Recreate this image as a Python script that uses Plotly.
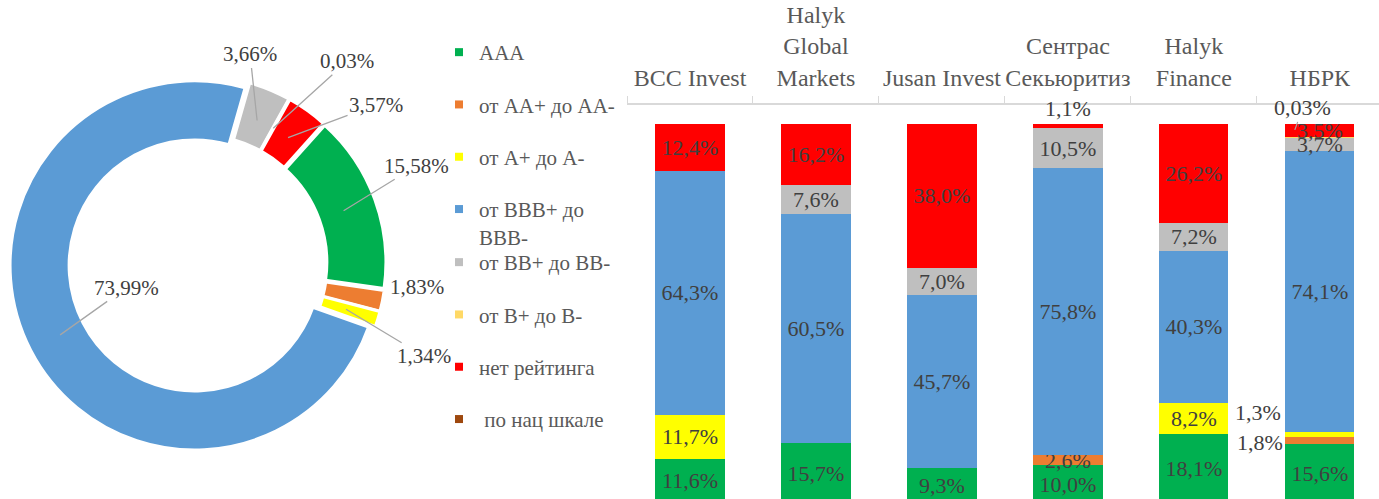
import math
import plotly.graph_objects as go

# ---------------- data ----------------
rating_labels = ["ААА", "от АА+ до АА-", "от А+ до А-", "от ВВВ+ до<br>ВВВ-",
                 "от ВВ+ до ВВ-", "от В+ до В-", "нет рейтинга", " по нац шкале"]

donut_labels = rating_labels[:7]
donut_values = [15.58, 1.83, 1.34, 73.99, 3.66, 0.03, 3.57]

companies = ["BCC Invest", "Halyk<br>Global<br>Markets", "Jusan Invest",
             "Сентрас<br>Секьюритиз", "Halyk<br>Finance", "НБРК"]
aaa = [11.6, 15.7, 9.3, 10.0, 18.1, 15.6]
aa = [0, 0, 0, 2.6, 0, 1.8]
a_rt = [11.7, 0, 0, 0, 8.2, 1.3]
bbb = [64.3, 60.5, 45.7, 75.8, 40.3, 74.1]
bb = [0, 7.6, 7.0, 10.5, 7.2, 3.7]
b_rt = [0, 0, 0, 0, 0, 0.03]
no_rating = [12.4, 16.2, 38.0, 1.1, 26.2, 3.5]
national = [0, 0, 0, 0, 0, 0]

series = [aaa, aa, a_rt, bbb, bb, b_rt, no_rating, national]

# ---------------- style ----------------
colors = ["#00B050", "#ED7D31", "#FFFF00", "#5B9BD5", "#BFBFBF", "#FFD966", "#FF0000", "#9E480E"]
FONT = "Liberation Serif, Times New Roman, serif"
W, H = 1379, 499
LABEL_C = "#404040"
AXIS_C = "#595959"

pie_dom_x = [0.007, 0.280]
pie_dom_y = [0.094, 0.849]
pie_hole = 0.68
pie_pull = 0.02
pie_rotation = 42

# donut label offsets (px) from the slice anchor
donut_label_offsets = [(73, -45, True), (38, -7, False), (78, 47, True), (66, -47, True),
                       (-7, -66, True), (74, -67, True), (88, -33, True)]

# bar labels placed outside of the segment
outside_bar_labels = {
    (6, 3): dict(xshift=0, yshift=15, where="top"),
    (2, 5): dict(xshift=-62, yshift=22, where="mid"),
    (1, 5): dict(xshift=-60, yshift=-2, where="mid"),
    (5, 5): dict(xshift=-25, yshift=-6, where="top_arrow"),
}


def fmt(v, nd=1):
    if v < 0.1:
        nd = 2
    return f"{v:.{nd}f}".replace(".", ",") + "%"


fig = go.Figure()

# ---------------- donut ----------------
fig.add_trace(go.Pie(
    labels=donut_labels, values=donut_values, sort=False, direction="clockwise",
    rotation=pie_rotation, hole=pie_hole, pull=pie_pull,
    marker=dict(colors=colors[:7], line=dict(color="white", width=3)),
    textinfo="none", showlegend=False, automargin=False,
    domain=dict(x=pie_dom_x, y=pie_dom_y),
))

cx = (pie_dom_x[0] + pie_dom_x[1]) / 2 * W
cy = (pie_dom_y[0] + pie_dom_y[1]) / 2 * H
R = min((pie_dom_x[1] - pie_dom_x[0]) * W, (pie_dom_y[1] - pie_dom_y[0]) * H) / 2 / (1 + pie_pull)
r_anchor = R * (1 + pie_hole) / 2
total = sum(donut_values)
cum = 0.0
annotations = []
for v, (ox, oy, arrow) in zip(donut_values, donut_label_offsets):
    theta = math.radians(pie_rotation + 360 * (cum + v / 2) / total)
    cum += v
    px = cx + r_anchor * math.sin(theta)
    py = cy + r_anchor * math.cos(theta)
    common = dict(xref="paper", yref="paper", x=px / W, y=py / H, text=fmt(v, 2),
                  font=dict(family=FONT, size=21, color=LABEL_C))
    if arrow:
        annotations.append(dict(**common, showarrow=True, ax=ox, ay=oy, arrowhead=0,
                                arrowwidth=1.3, arrowcolor="#A6A6A6", standoff=0))
    else:
        annotations.append(dict(**common, showarrow=False, xshift=ox, yshift=-oy))

# ---------------- stacked bars ----------------
for si, (name, vals, col) in enumerate(zip(rating_labels, series, colors)):
    texts = []
    for ci, v in enumerate(vals):
        if v > 0 and (si, ci) not in outside_bar_labels:
            texts.append(fmt(v))
        else:
            texts.append("")
    fig.add_trace(go.Bar(
        x=companies, y=vals, name=name, marker=dict(color=col, line=dict(width=0)),
        text=texts, textposition="inside", insidetextanchor="middle", textangle=0,
        constraintext="none", textfont=dict(family=FONT, size=22, color=LABEL_C),
        showlegend=False, hoverinfo="skip",
    ))

for (si, ci), spec in outside_bar_labels.items():
    v = series[si][ci]
    below = sum(series[k][ci] for k in range(si))
    if spec["where"] == "mid":
        yv = below + v / 2
        annotations.append(dict(xref="x", yref="y", x=companies[ci], y=yv, text=fmt(v),
                                showarrow=False, xshift=spec["xshift"], yshift=spec["yshift"],
                                font=dict(family=FONT, size=22, color=LABEL_C)))
    elif spec["where"] == "top":
        yv = below + v
        annotations.append(dict(xref="x", yref="y", x=companies[ci], y=yv, text=fmt(v),
                                showarrow=False, xshift=spec["xshift"], yshift=spec["yshift"],
                                font=dict(family=FONT, size=22, color=LABEL_C)))
    else:
        yv = sum(series[k][ci] for k in range(len(series)))
        annotations.append(dict(xref="x", yref="y", x=companies[ci], y=yv, text=fmt(v),
                                showarrow=True, ax=8, ay=-22, arrowhead=0, arrowwidth=1.2,
                                arrowcolor="#A6A6A6", standoff=0,
                                xshift=spec["xshift"], yshift=spec["yshift"],
                                font=dict(family=FONT, size=22, color=LABEL_C)))

# ---------------- legend (marker-only entries) ----------------
for si, (name, col) in enumerate(zip(rating_labels, colors)):
    fig.add_trace(go.Scatter(
        x=[None], y=[None], mode="markers", name=name,
        marker=dict(symbol="square", size=8, color=col),
        legendgroup=f"g{si}", legend="legend" if si < 4 else "legend2",
        showlegend=True, hoverinfo="skip",
    ))

legend_common = dict(font=dict(family=FONT, size=21, color=AXIS_C), bgcolor="rgba(0,0,0,0)",
                     tracegroupgap=22, valign="top", itemwidth=30,
                     xanchor="left", yanchor="top", traceorder="grouped")

fig.update_layout(
    width=W, height=H, autosize=False, margin=dict(l=0, r=0, t=0, b=0, autoexpand=False),
    paper_bgcolor="white", plot_bgcolor="white",
    barmode="stack", bargap=0.45,
    font=dict(family=FONT, color=AXIS_C),
    xaxis=dict(domain=[627 / W, 1.0], side="top", type="category",
               categoryorder="array", categoryarray=companies,
               range=[-0.5, 5.47], showline=True, linecolor="#D9D9D9", linewidth=1.5,
               ticks="outside", tickson="boundaries", ticklen=7, tickcolor="#D9D9D9",
               ticklabelstandoff=8, tickangle=0, automargin=False,
               tickfont=dict(family=FONT, size=24, color=AXIS_C), showgrid=False,
               fixedrange=True),
    yaxis=dict(domain=[0, (H - 105) / H], range=[1.05, 105], visible=False,
               showgrid=False, fixedrange=True, automargin=False),
    legend=dict(x=439 / W, y=1 - 32 / H, **legend_common),
    legend2=dict(x=439 / W, y=1 - 242 / H, **legend_common),
    annotations=annotations,
)

fig.write_html("out.html", config={"responsive": False, "displayModeBar": False},
               post_script="document.body.style.margin='0px';")
